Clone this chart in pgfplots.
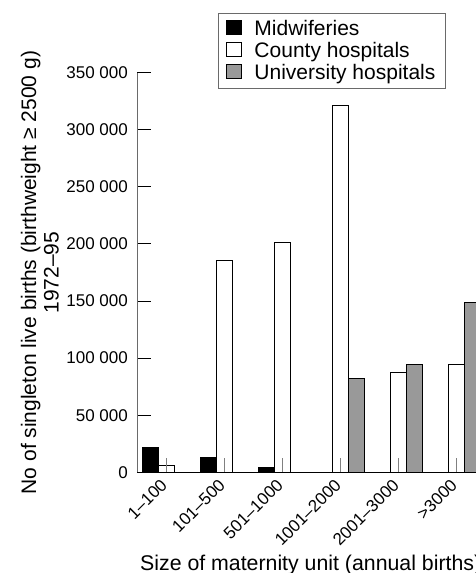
\documentclass[border=0pt]{standalone}
\usepackage{fontspec}
\setmainfont{Liberation Sans}
\usepackage{pgfplots}
\pgfplotsset{compat=1.18}
\definecolor{unigrey}{HTML}{999999}
\definecolor{axisgrey}{HTML}{6A6A6A}
\definecolor{tickgrey}{HTML}{808080}
\begin{document}
\begin{tikzpicture}
\useasboundingbox (0,0) rectangle (476pt,573pt);
\begin{axis}[
  at={(137pt,100.7pt)}, anchor=south west,
  x=58pt, y=1.1417pt,
  xmin=-0.517, xmax=5.6,
  ymin=0, ymax=350,
  axis x line*=bottom, axis y line*=left,
  x axis line style={black, line width=1pt},
  y axis line style={axisgrey, line width=1pt},
  axis on top,
  ybar, bar width=16pt,
  xtick={0,1,2,3,4,5},
  xticklabels={1--100,101--500,501--1000,1001--2000,2001--3000,>3000},
  ytick={0,50,100,150,200,250,300,350},
  yticklabels={0,50 000,100 000,150 000,200 000,250 000,300 000,350 000},
  /pgf/number format/assume math mode=true,
  tick align=inside, major tick length=14pt,
  xtick style={tickgrey, line width=1pt},
  ytick style={black, line width=1pt},
  yticklabel style={font=\fontsize{17}{20}\selectfont, inner sep=0pt, xshift=-9pt},
  xticklabel style={font=\fontsize{17}{20}\selectfont, xshift=-3pt, yshift=-10pt, rotate=45, anchor=east, inner sep=0pt},
  xlabel={Size of maternity unit (annual births)},
  xlabel style={at={(axis description cs:0.0085,-0.2445)}, anchor=base west, inner sep=0pt, font=\fontsize{21.3}{24}\selectfont},
  ylabel={No of singleton live births (birthweight ≥ 2500 g)\\1972--95},
  ylabel style={at={(axis description cs:-0.2199,0.5)}, anchor=south, align=center, inner sep=0pt, font=\fontsize{21}{22.5}\selectfont},
  legend style={at={(axis description cs:0.2283,1.1494)}, anchor=north west,
    draw=axisgrey, line width=1pt, inner xsep=8pt, inner ysep=5pt,
    font=\fontsize{21}{24}\selectfont,
    row sep=1.2pt, column sep=10pt},
  legend cell align=left,
  legend image code/.code={\draw[#1, draw=black, line width=1pt] (0pt,-5.4pt) rectangle (15pt,7.9pt);},
]
\addplot[fill=black, draw=black, line width=1pt, bar shift=-16pt] coordinates {(0,22) (1,13.4) (2,4.4)};
\addlegendentry{Midwiferies}
\addplot[fill=white, draw=black, line width=1pt, bar shift=0pt] coordinates {(0,6.1) (1,185.1) (2,201.1) (3,321.7) (4,87.7) (5,94.4)};
\addlegendentry{County hospitals}
\addplot[fill=unigrey, draw=black, line width=1pt, bar shift=16pt] coordinates {(3,82.4) (4,94.7) (5,148.9)};
\addlegendentry{University hospitals}
\end{axis}
\end{tikzpicture}
\end{document}
